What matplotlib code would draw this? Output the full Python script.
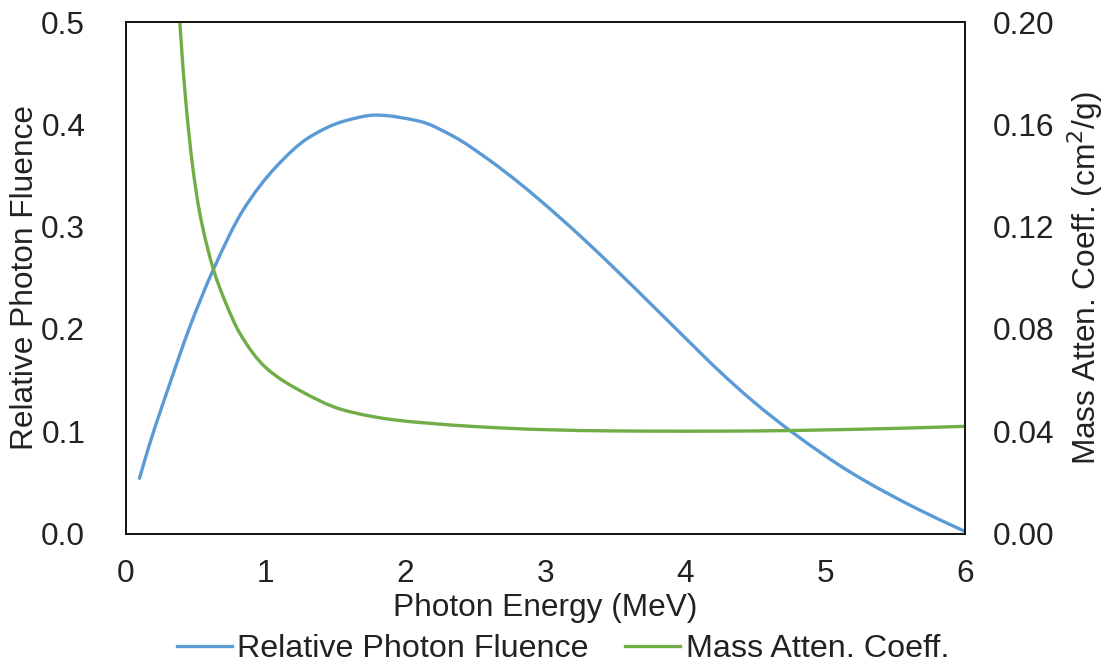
import matplotlib
matplotlib.use("Agg")
import matplotlib.pyplot as plt
from matplotlib.path import Path
from matplotlib.patches import PathPatch
from matplotlib.lines import Line2D

# Relative photon fluence (left axis)
energy_fluence = [0.1, 0.175, 0.318, 0.461, 0.628, 0.84, 1.08, 1.31, 1.56, 1.79,
                  2.1, 2.34, 2.58, 2.82, 3.06, 3.3, 3.53, 3.77, 4.06, 4.23,
                  4.5, 4.77, 5.18, 5.66, 6.0]
fluence = [0.054, 0.0886, 0.147, 0.2025, 0.258, 0.316, 0.359, 0.387, 0.403, 0.409,
           0.403, 0.3885, 0.367, 0.342, 0.3142, 0.2845, 0.2545, 0.2223, 0.1832, 0.1605,
           0.1275, 0.0985, 0.0600, 0.0240, 0.002]

# Mass attenuation coefficient (right axis, cm^2/g)
energy_atten = [0.35, 0.43, 0.48, 0.53, 0.63, 0.71, 0.82, 1.0, 1.24, 1.55,
                1.91, 2.15, 2.5, 3.0, 3.5, 4.0, 4.5, 5.0, 5.5, 6.0]
atten = [0.23, 0.1695, 0.1435, 0.1255, 0.103, 0.0910, 0.0780, 0.0650, 0.0561, 0.0484,
         0.0445, 0.0432, 0.0418, 0.0406, 0.0401, 0.0400, 0.0401, 0.0405, 0.0411, 0.0419]

x_ticks = [0, 1, 2, 3, 4, 5, 6]
left_ticks = [0.0, 0.1, 0.2, 0.3, 0.4, 0.5]
right_ticks = [0.00, 0.04, 0.08, 0.12, 0.16, 0.20]

plt.rcParams['font.family'] = ['Liberation Sans', 'DejaVu Sans']
FS = 22.8
TXT = '#222222'


def smooth_path(xs, ys):
    """Smoothed line (like a spreadsheet's smoothed line): shape-preserving cubic
    Bezier segments through every data point."""
    n = len(xs)
    h = [xs[i + 1] - xs[i] for i in range(n - 1)]
    d = [(ys[i + 1] - ys[i]) / h[i] for i in range(n - 1)]
    m = [0.0] * n
    m[0] = d[0]
    m[-1] = d[-1]
    for k in range(1, n - 1):
        if d[k - 1] * d[k] <= 0:
            m[k] = 0.0
        else:
            w1 = 2 * h[k] + h[k - 1]
            w2 = h[k] + 2 * h[k - 1]
            m[k] = (w1 + w2) / (w1 / d[k - 1] + w2 / d[k])
    verts = [(xs[0], ys[0])]
    codes = [Path.MOVETO]
    for i in range(n - 1):
        c1 = (xs[i] + h[i] / 3.0, ys[i] + m[i] * h[i] / 3.0)
        c2 = (xs[i + 1] - h[i] / 3.0, ys[i + 1] - m[i + 1] * h[i] / 3.0)
        verts += [c1, c2, (xs[i + 1], ys[i + 1])]
        codes += [Path.CURVE4] * 3
    return Path(verts, codes)


fig = plt.figure(figsize=(11.04, 6.66), dpi=100)
ax = fig.add_axes([125.5 / 1104, 1 - 533.5 / 666, (965 - 125.5) / 1104, (533.5 - 22) / 666])
ax2 = ax.twinx()

blue = '#5B9BD5'
green = '#70AD47'

ax.add_patch(PathPatch(smooth_path(energy_fluence, fluence), fill=False,
                       edgecolor=blue, lw=2.4, capstyle='round', joinstyle='round'))
ax2.add_patch(PathPatch(smooth_path(energy_atten, atten), fill=False,
                        edgecolor=green, lw=2.4, capstyle='round', joinstyle='round'))

ax.set_xlim(0, 6)
ax.set_ylim(0, 0.5)
ax2.set_ylim(0, 0.20)
ax.set_xticks(x_ticks)
ax.set_xticklabels([str(v) for v in x_ticks])
ax.set_yticks(left_ticks)
ax.set_yticklabels([f"{v:.1f}" for v in left_ticks])
ax2.set_yticks(right_ticks)
ax2.set_yticklabels([f"{v:.2f}" for v in right_ticks])

ax.tick_params(axis='x', length=0, pad=18, labelsize=FS, colors=TXT)
ax.tick_params(axis='y', length=0, pad=29, labelsize=FS, colors=TXT)
ax2.tick_params(axis='y', length=0, pad=20, labelsize=FS, colors=TXT)

for a in (ax, ax2):
    for s in a.spines.values():
        s.set_color('#111111')
        s.set_linewidth(1.2)

ax.set_xlabel('Photon Energy (MeV)', fontsize=FS, color=TXT, labelpad=3)
fig.text(25 / 1104, 1 - 278 / 666, 'Relative Photon Fluence', fontsize=FS, color=TXT,
         rotation=90, ha='center', va='center')
fig.text(1085 / 1104, 1 - 278 / 666, 'Mass Atten. Coeff. (cm$^2$/g)', fontsize=FS,
         color=TXT, rotation=90, ha='center', va='center')

h1 = Line2D([], [], color=blue, lw=2.4)
h2 = Line2D([], [], color=green, lw=2.4)
fig.legend(handles=[h1, h2], labels=['Relative Photon Fluence', 'Mass Atten. Coeff.'],
           loc='center', bbox_to_anchor=(563 / 1104, 1 - 649 / 666),
           ncol=2, frameon=False, fontsize=23.2, handlelength=1.71, handletextpad=0.16,
           columnspacing=1.14, borderaxespad=0, borderpad=0, labelcolor=TXT)

fig.savefig('out.png', dpi=100)
